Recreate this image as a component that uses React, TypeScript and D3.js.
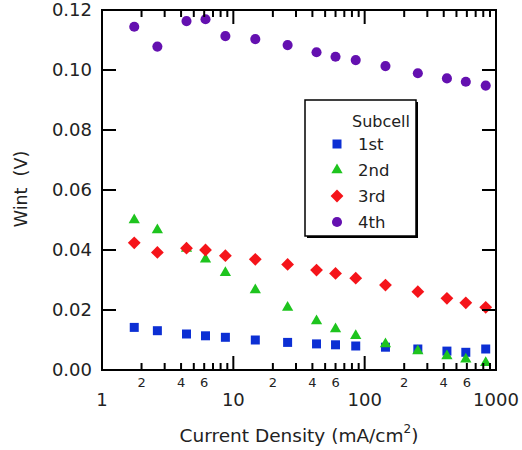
import React from "react";
import { scaleLog, scaleLinear, symbol, symbolSquare, symbolTriangle, symbolCircle } from "d3";

const currentDensity = [1.76, 2.64, 4.4, 6.14, 8.7, 14.7, 25.9, 43, 60, 85.5, 144, 254, 423, 589, 835];
const sub1 = [0.0142, 0.0131, 0.012, 0.0114, 0.0109, 0.01, 0.0092, 0.0087, 0.0084, 0.008, 0.0076, 0.007, 0.0063, 0.0059, 0.007];
const sub2 = [0.05, 0.0467, 0.0405, 0.0369, 0.0324, 0.0267, 0.0208, 0.0163, 0.0137, 0.0114, 0.0087, 0.0063, 0.0047, 0.0036, 0.0024];
const sub3 = [0.0424, 0.0392, 0.0406, 0.04, 0.0381, 0.0369, 0.0352, 0.0333, 0.0322, 0.0306, 0.0283, 0.0261, 0.0239, 0.0224, 0.0209];
const sub4 = [0.1144, 0.1078, 0.1163, 0.1169, 0.1113, 0.1103, 0.1083, 0.1059, 0.1044, 0.1033, 0.1013, 0.0989, 0.0972, 0.0961, 0.0948];
const seriesNames = ["1st", "2nd", "3rd", "4th"];
const yTicks = [0, 0.02, 0.04, 0.06, 0.08, 0.1, 0.12];
const decades = [1, 10, 100, 1000];

const font = "'DejaVu Sans', sans-serif";

const styles = [
  { color: "#0c2fd4", type: symbolSquare, size: 81, rot: 0 },
  { color: "#1ec41e", type: symbolTriangle, size: 55, rot: 0 },
  { color: "#f5141a", type: symbolSquare, size: 82, rot: 45 },
  { color: "#6410b0", type: symbolCircle, size: 80, rot: 0 },
];

export default function App() {
  const width = 522,
    height = 450;
  const left = 102,
    right = 496,
    top = 10,
    bottom = 370;

  const x = scaleLog().domain([1, 1000]).range([left, right]);
  const y = scaleLinear().domain([0, 0.12]).range([bottom, top]);

  const series = [sub1, sub2, sub3, sub4];

  const minor: number[] = [];
  [1, 10, 100].forEach(d => {
    for (let k = 2; k <= 9; k++) minor.push(d * k);
  });
  const digit = (t: number) => Math.round(t / Math.pow(10, Math.floor(Math.log10(t) + 1e-9)));

  const lx = 305,
    ly = 100,
    lw = 111,
    lh = 136;

  return (
    <svg width={width} height={height} style={{ position: "absolute", left: 0, top: 0, background: "#fff" }}>
      {/* markers */}
      {series.map((vals, si) => {
        const st = styles[si];
        const path = symbol(st.type, st.size)() as string;
        return (
          <g key={si}>
            {vals.map((v, i) => (
              <path
                key={i}
                d={path}
                fill={st.color}
                transform={`translate(${x(currentDensity[i])},${y(v)}) rotate(${st.rot})`}
              />
            ))}
          </g>
        );
      })}

      {/* frame */}
      <rect x={left} y={top} width={right - left} height={bottom - top} fill="none" stroke="#000" strokeWidth={2} />

      {/* y ticks */}
      {yTicks.map(t => (
        <g key={t}>
          <line x1={left} x2={left + 14} y1={y(t)} y2={y(t)} stroke="#000" strokeWidth={2} />
          <line x1={right} x2={right - 14} y1={y(t)} y2={y(t)} stroke="#000" strokeWidth={2} />
          <text x={92} y={y(t)} dy="0.36em" textAnchor="end" fontFamily={font} fontSize={18} fill="#222">
            {t.toFixed(2)}
          </text>
        </g>
      ))}

      {/* x ticks */}
      {[10, 100].map(t => (
        <g key={t}>
          <line x1={x(t)} x2={x(t)} y1={bottom} y2={bottom - 14} stroke="#000" strokeWidth={2} />
          <line x1={x(t)} x2={x(t)} y1={top} y2={top + 14} stroke="#000" strokeWidth={2} />
        </g>
      ))}
      {minor.map(t => (
        <g key={t}>
          <line x1={x(t)} x2={x(t)} y1={bottom} y2={bottom - 7} stroke="#000" strokeWidth={2} />
          <line x1={x(t)} x2={x(t)} y1={top} y2={top + 7} stroke="#000" strokeWidth={2} />
        </g>
      ))}
      {minor
        .filter(t => [2, 4, 6].includes(digit(t)))
        .map(t => (
          <text key={t} x={x(t)} y={387} textAnchor="middle" fontFamily={font} fontSize={13} fill="#222">
            {digit(t)}
          </text>
        ))}
      {decades.map(t => (
        <text key={t} x={x(t)} y={406} textAnchor="middle" fontFamily={font} fontSize={18} fill="#222">
          {t}
        </text>
      ))}

      {/* axis titles */}
      <text x={(left + right) / 2} y={442} textAnchor="middle" fontFamily={font} fontSize={18.5} fill="#222">
        Current Density (mA/cm<tspan dy={-9} fontSize={12}>2</tspan>
        <tspan dy={9}>)</tspan>
      </text>
      <text
        transform={`translate(27,189) rotate(-90)`}
        textAnchor="middle"
        fontFamily={font}
        fontSize={17.5}
        fill="#222"
        style={{ whiteSpace: "pre" }}
      >
        {"Wint\u00a0\u00a0(V)"}
      </text>

      {/* legend */}
      <rect x={lx + 2} y={ly + 2} width={lw} height={lh} fill="#000" />
      <rect x={lx} y={ly} width={lw} height={lh} fill="#fff" stroke="#000" strokeWidth={1.5} />
      <text x={lx + lw - 6} y={ly + 27} textAnchor="end" fontFamily={font} fontSize={16} fill="#222">
        Subcell
      </text>
      {seriesNames.map((name, i) => {
        const st = styles[i];
        const path = symbol(st.type, st.size)() as string;
        const cy = ly + 44 + i * 26;
        return (
          <g key={name}>
            <path d={path} fill={st.color} transform={`translate(${lx + 32},${cy}) rotate(${st.rot})`} />
            <text x={lx + 53} y={cy} dy="0.36em" fontFamily={font} fontSize={16.5} fill="#222">
              {name}
            </text>
          </g>
        );
      })}
    </svg>
  );
}
